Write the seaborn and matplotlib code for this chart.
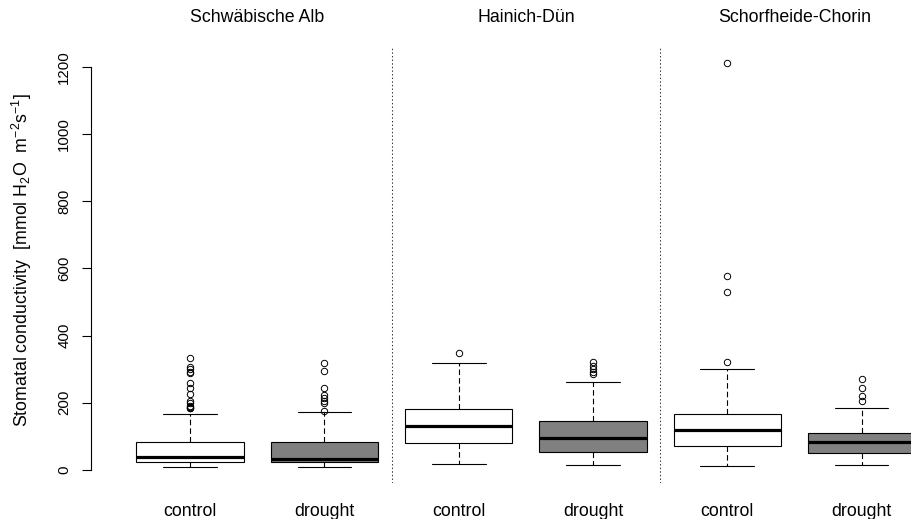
import numpy as np
import pandas as pd
import seaborn as sns
import matplotlib
matplotlib.use("Agg")
import matplotlib.pyplot as plt
from matplotlib.transforms import blended_transform_factory

# ---- data ----
sites = ["Schwäbische Alb", "Hainich-Dün", "Schorfheide-Chorin"]
treatments = ["control", "drought"]
box_site = ["Schwäbische Alb", "Schwäbische Alb", "Hainich-Dün", "Hainich-Dün",
            "Schorfheide-Chorin", "Schorfheide-Chorin"]
box_treatment = ["control", "drought", "control", "drought", "control", "drought"]
q1 = [23, 23, 81, 54, 72, 51]
median = [38, 33, 130, 94, 120, 83]
q3 = [83, 83, 182, 145, 168, 110]
whisker_low = [10, 10, 17, 14, 13, 15]
whisker_high = [168, 172, 318, 263, 300, 185]
outliers = [
    [332, 308, 300, 293, 288, 258, 245, 225, 206, 199, 191, 188, 186, 184],
    [318, 295, 243, 223, 213, 204, 199, 177],
    [347],
    [321, 311, 301, 291, 285],
    [1212, 578, 530, 322],
    [271, 243, 221, 204],
]
y_ticks = [0, 200, 400, 600, 800, 1000, 1200]
fill_colors = {"control": "white", "drought": "#808080"}

# ---- style ----
sns.set_style("white")
plt.rcParams["font.family"] = ["Liberation Sans", "DejaVu Sans"]
plt.rcParams["mathtext.fontset"] = "custom"
plt.rcParams["mathtext.rm"] = "Liberation Sans"
plt.rcParams["mathtext.it"] = "Liberation Sans:italic"
plt.rcParams["mathtext.bf"] = "Liberation Sans:bold"
plt.rcParams["lines.scale_dashes"] = False
plt.rcParams["text.color"] = "black"
plt.rcParams["axes.labelcolor"] = "black"
plt.rcParams["xtick.color"] = "black"
plt.rcParams["ytick.color"] = "black"

W, H = 911, 519
fig = plt.figure(figsize=(W / 100, H / 100), dpi=100)
fig.patch.set_facecolor("white")
ax = fig.add_axes([90.7 / W, 1 - 483.4 / H, (961 - 90.7) / W, (483.4 - 47.5) / H])
ax.set_facecolor("white")

positions = np.arange(1, len(q1) + 1)
stats = []
for i in range(len(q1)):
    stats.append(dict(med=median[i], q1=q1[i], q3=q3[i],
                      whislo=whisker_low[i], whishi=whisker_high[i],
                      fliers=np.array(outliers[i]),
                      label=box_treatment[i]))

res = ax.bxp(stats, positions=positions, widths=0.8, capwidths=0.4,
             patch_artist=True, manage_ticks=False,
             boxprops=dict(edgecolor="black", linewidth=0.8),
             whiskerprops=dict(color="black", linewidth=0.8, linestyle=(0, (4.0, 2.2))),
             capprops=dict(color="black", linewidth=0.8),
             medianprops=dict(color="black", linewidth=2.3, solid_capstyle="butt"),
             flierprops=dict(marker="o", markerfacecolor="none", markeredgecolor="black",
                             markersize=4.6, markeredgewidth=0.7, linestyle="none"))
for box, tr in zip(res["boxes"], box_treatment):
    box.set_facecolor(fill_colors[tr])

# separators between sites
for xsep in [2.5, 4.5]:
    ax.axvline(xsep, color="#333333", linewidth=0.75, linestyle=(0, (1.0, 1.6)))

ax.set_xlim(0.26, 6.74)
ax.set_ylim(-40, 1258)

# axes styling (R base style)
for s in ["top", "right", "bottom"]:
    ax.spines[s].set_visible(False)
ax.spines["left"].set_bounds(0, 1200)
ax.spines["left"].set_linewidth(0.8)
ax.spines["left"].set_color("black")
ax.set_yticks(y_ticks)
ax.set_yticklabels([str(t) for t in y_ticks])
ax.tick_params(axis="y", direction="out", length=6.5, width=0.8, color="black",
               labelcolor="black", labelsize=10.8, labelrotation=90, pad=7.5, left=True)
for lab in ax.get_yticklabels():
    lab.set_verticalalignment("center")
ax.set_xticks([])

# treatment labels under boxes
tx = blended_transform_factory(ax.transData, fig.transFigure)
for p, tr in zip(positions, box_treatment):
    ax.text(p, 1 - 516 / H, tr, transform=tx, ha="center", va="baseline",
            fontsize=12.8, color="black")

# site titles
for k, site in enumerate(sites):
    ax.text(1.5 + 2 * k, 1 - 17 / H, site, transform=tx, ha="center", va="center",
            fontsize=12.8, color="black")

fig.text(22 / W, 1 - 260.5 / H,
         r"Stomatal conductivity  [mmol H$_2$O  m$^{-2}$s$^{-1}$]",
         rotation=90, ha="center", va="center", fontsize=12.8, color="black")

fig.savefig("out.png", dpi=100)
